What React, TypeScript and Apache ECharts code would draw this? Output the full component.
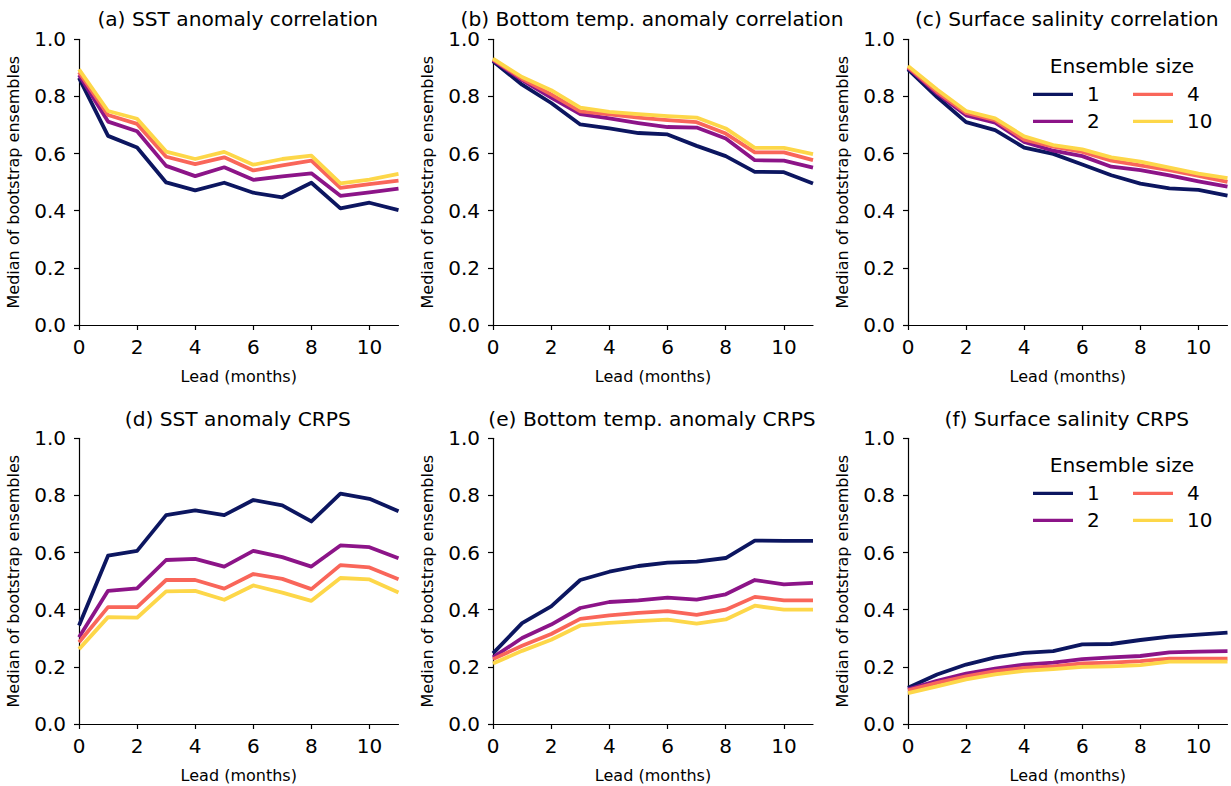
import React, { useEffect, useRef } from "react";
import * as echarts from "echarts";

const leads = [0, 1, 2, 3, 4, 5, 6, 7, 8, 9, 10, 11];
const ensembleSizes = ["1", "2", "4", "10"];
const colors = ["#0c1660", "#8c1488", "#f9665a", "#fdd749"];
const xTicks = [0, 2, 4, 6, 8, 10];

const titles = [
  "(a) SST anomaly correlation",
  "(b) Bottom temp. anomaly correlation",
  "(c) Surface salinity correlation",
  "(d) SST anomaly CRPS",
  "(e) Bottom temp. anomaly CRPS",
  "(f) Surface salinity CRPS",
];

// (a) SST anomaly correlation
const sstCorr1 = [0.865, 0.662, 0.621, 0.499, 0.471, 0.498, 0.463, 0.447, 0.498, 0.408, 0.428, 0.402];
const sstCorr2 = [0.875, 0.712, 0.678, 0.557, 0.521, 0.552, 0.508, 0.52, 0.531, 0.452, 0.464, 0.477];
const sstCorr4 = [0.885, 0.735, 0.704, 0.589, 0.563, 0.587, 0.541, 0.559, 0.575, 0.48, 0.493, 0.505];
const sstCorr10 = [0.895, 0.749, 0.722, 0.607, 0.581, 0.606, 0.561, 0.581, 0.593, 0.496, 0.509, 0.529];

// (b) Bottom temp. anomaly correlation
const btCorr1 = [0.923, 0.841, 0.777, 0.702, 0.688, 0.672, 0.667, 0.627, 0.591, 0.536, 0.535, 0.495];
const btCorr2 = [0.927, 0.857, 0.796, 0.738, 0.723, 0.707, 0.693, 0.691, 0.653, 0.577, 0.575, 0.551];
const btCorr4 = [0.93, 0.862, 0.807, 0.748, 0.737, 0.726, 0.717, 0.71, 0.67, 0.604, 0.604, 0.577];
const btCorr10 = [0.932, 0.868, 0.822, 0.761, 0.746, 0.738, 0.731, 0.726, 0.688, 0.62, 0.62, 0.598];

// (c) Surface salinity correlation
const ssCorr1 = [0.895, 0.798, 0.71, 0.682, 0.621, 0.599, 0.562, 0.524, 0.495, 0.478, 0.473, 0.453];
const ssCorr2 = [0.9, 0.81, 0.734, 0.708, 0.641, 0.61, 0.591, 0.554, 0.542, 0.524, 0.503, 0.484];
const ssCorr4 = [0.903, 0.816, 0.742, 0.717, 0.649, 0.624, 0.606, 0.575, 0.559, 0.542, 0.522, 0.501];
const ssCorr10 = [0.907, 0.824, 0.749, 0.723, 0.66, 0.63, 0.615, 0.587, 0.572, 0.551, 0.53, 0.514];

// (d) SST anomaly CRPS
const sstCrps1 = [0.345, 0.589, 0.606, 0.731, 0.748, 0.731, 0.784, 0.765, 0.709, 0.806, 0.788, 0.745];
const sstCrps2 = [0.304, 0.466, 0.475, 0.574, 0.578, 0.551, 0.606, 0.584, 0.551, 0.625, 0.619, 0.58];
const sstCrps4 = [0.286, 0.409, 0.409, 0.504, 0.504, 0.474, 0.525, 0.508, 0.472, 0.556, 0.548, 0.507];
const sstCrps10 = [0.262, 0.374, 0.372, 0.464, 0.466, 0.435, 0.485, 0.46, 0.431, 0.511, 0.506, 0.46];

// (e) Bottom temp. anomaly CRPS
const btCrps1 = [0.247, 0.353, 0.412, 0.504, 0.533, 0.553, 0.565, 0.568, 0.581, 0.642, 0.641, 0.641];
const btCrps2 = [0.233, 0.301, 0.348, 0.406, 0.427, 0.433, 0.442, 0.435, 0.454, 0.504, 0.489, 0.494];
const btCrps4 = [0.227, 0.274, 0.315, 0.368, 0.38, 0.389, 0.395, 0.382, 0.4, 0.445, 0.433, 0.433];
const btCrps10 = [0.212, 0.256, 0.295, 0.345, 0.354, 0.36, 0.365, 0.351, 0.366, 0.414, 0.4, 0.4];

// (f) Surface salinity CRPS
const ssCrps1 = [0.127, 0.173, 0.208, 0.233, 0.249, 0.255, 0.279, 0.28, 0.294, 0.306, 0.313, 0.32];
const ssCrps2 = [0.121, 0.151, 0.176, 0.194, 0.208, 0.215, 0.227, 0.233, 0.238, 0.251, 0.253, 0.255];
const ssCrps4 = [0.118, 0.144, 0.167, 0.185, 0.196, 0.202, 0.212, 0.215, 0.22, 0.229, 0.229, 0.229];
const ssCrps10 = [0.108, 0.132, 0.156, 0.174, 0.186, 0.192, 0.2, 0.202, 0.206, 0.218, 0.218, 0.218];

const panels = [
  [sstCorr1, sstCorr2, sstCorr4, sstCorr10],
  [btCorr1, btCorr2, btCorr4, btCorr10],
  [ssCorr1, ssCorr2, ssCorr4, ssCorr10],
  [sstCrps1, sstCrps2, sstCrps4, sstCrps10],
  [btCrps1, btCrps2, btCrps4, btCrps10],
  [ssCrps1, ssCrps2, ssCrps4, ssCrps10],
];

const FONT = "DejaVu Sans";
const colLeft = [79, 493, 908];
const colWidth = [319.5, 320, 319.5];
const rowTop = [39.3, 438.3];
const gridHeight = 285.7;

export default function App() {
  const ref = useRef<HTMLDivElement>(null);
  useEffect(() => {
    if (!ref.current) return;
    const chart = echarts.init(ref.current, null, { renderer: "svg" });
    const grids: any[] = [];
    const xAxes: any[] = [];
    const yAxes: any[] = [];
    const series: any[] = [];
    const titleComps: any[] = [];
    panels.forEach((pdata, i) => {
      const r = Math.floor(i / 3);
      const c = i % 3;
      grids.push({
        left: colLeft[c],
        top: rowTop[r],
        width: colWidth[c],
        height: gridHeight,
        containLabel: false,
      });
      xAxes.push({
        type: "value",
        gridIndex: i,
        min: 0,
        max: 11,
        interval: 2,
        name: "Lead (months)",
        nameLocation: "middle",
        nameGap: 43,
        nameTextStyle: { fontSize: 16, fontFamily: FONT, color: "#000" },
        axisLine: { show: true, lineStyle: { color: "#000", width: 1.2 } },
        axisTick: { show: true, inside: false, length: 5, lineStyle: { color: "#000", width: 1.2 }, customValues: xTicks },
        axisLabel: { fontSize: 20, fontFamily: FONT, color: "#000", margin: 12, customValues: xTicks },
        splitLine: { show: false },
      });
      yAxes.push({
        type: "value",
        gridIndex: i,
        min: 0,
        max: 1,
        interval: 0.2,
        name: "Median of bootstrap ensembles",
        nameLocation: "middle",
        nameGap: 58,
        nameTextStyle: { fontSize: 16, fontFamily: FONT, color: "#000" },
        axisLine: { show: true, lineStyle: { color: "#000", width: 1.2 } },
        axisTick: { show: true, inside: false, length: 5, lineStyle: { color: "#000", width: 1.2 } },
        axisLabel: {
          fontSize: 20,
          lineHeight: 18,
          fontFamily: FONT,
          color: "#000",
          margin: 13,
          formatter: (v: number) => v.toFixed(1),
        },
        splitLine: { show: false },
      });
      titleComps.push({
        text: titles[i],
        left: colLeft[c] + colWidth[c] / 2 - 1,
        top: r === 0 ? 9 : 409,
        padding: 0,
        textAlign: "center",
        textStyle: { fontSize: 20.2, lineHeight: 20, fontWeight: "normal", fontFamily: FONT, color: "#000" },
      });
      pdata.forEach((vals, k) => {
        series.push({
          name: ensembleSizes[k],
          type: "line",
          xAxisIndex: i,
          yAxisIndex: i,
          data: leads.map((x, j) => [x, vals[j]]),
          showSymbol: false,
          symbol: "none",
          color: colors[k],
          lineStyle: { width: 3.8, color: colors[k], join: "round", cap: "butt" },
          z: 2 + k,
        });
      });
    });

    const legendTitleY = [65.7, 465];
    const legendRowY = [94.3, 493.3];
    const legends: any[] = [];
    [0, 1].forEach((r) => {
      titleComps.push({
        text: "Ensemble size",
        left: 1122,
        top: legendTitleY[r] - 10,
        padding: 0,
        textAlign: "center",
        textStyle: { fontSize: 20.2, lineHeight: 20, fontWeight: "normal", fontFamily: FONT, color: "#000" },
      });
      [["1", "2"], ["4", "10"]].forEach((d, ci) => {
        legends.push({
          data: d,
          orient: "vertical",
          left: ci === 0 ? 1033 : 1133,
          top: legendRowY[r] - 10,
          icon: "rect",
          itemWidth: 40,
          itemHeight: 3.2,
          itemGap: 7,
          padding: 0,
          textStyle: {
            fontSize: 20,
            lineHeight: 20,
            fontFamily: FONT,
            color: "#000",
            padding: [0, 0, 0, 9],
          },
          selectedMode: false,
        });
      });
    });

    chart.setOption({
      animation: false,
      backgroundColor: "#fff",
      title: titleComps,
      grid: grids,
      xAxis: xAxes,
      yAxis: yAxes,
      legend: legends,
      series,
    });
    return () => chart.dispose();
  }, []);
  return (
    <div
      ref={ref}
      style={{ position: "fixed", left: 0, top: 0, width: 1231, height: 786, background: "#fff" }}
    />
  );
}
